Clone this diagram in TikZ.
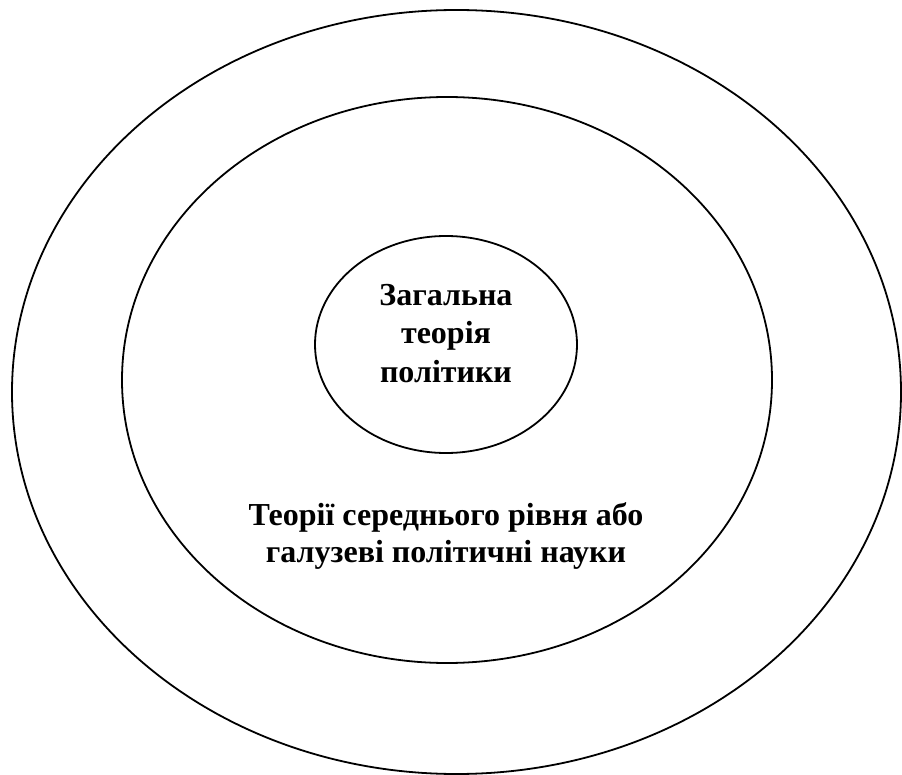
\documentclass[tikz,border=0pt]{standalone}
\usepackage{fontspec}
\setmainfont{Liberation Serif}
\usetikzlibrary{shapes.geometric}
\begin{document}
\begin{tikzpicture}[x=1pt,y=-1pt,
  ring/.style={draw=black,line width=1.8pt,ellipse,inner sep=0pt},
  lbl/.style={align=center,font=\fontsize{32}{37}\selectfont\bfseries}]
\useasboundingbox (0,0) rectangle (902,775);
\node[ring,minimum width=889pt,minimum height=764pt] (outer) at (456.5,392) {};
\node[ring,minimum width=650pt,minimum height=566pt] (middle) at (447,380) {};
\node[ring,minimum width=262pt,minimum height=217pt] (inner) at (446,344.5) {};
\node[lbl,font=\fontsize{32}{38.5}\selectfont\bfseries,anchor=base] (t1) at (446,382) {Загальна\\теорія\\політики};
\node[lbl,anchor=base] (t2) at (446,562) {Теорії середнього рівня або\\галузеві політичні науки};
\end{tikzpicture}
\end{document}
